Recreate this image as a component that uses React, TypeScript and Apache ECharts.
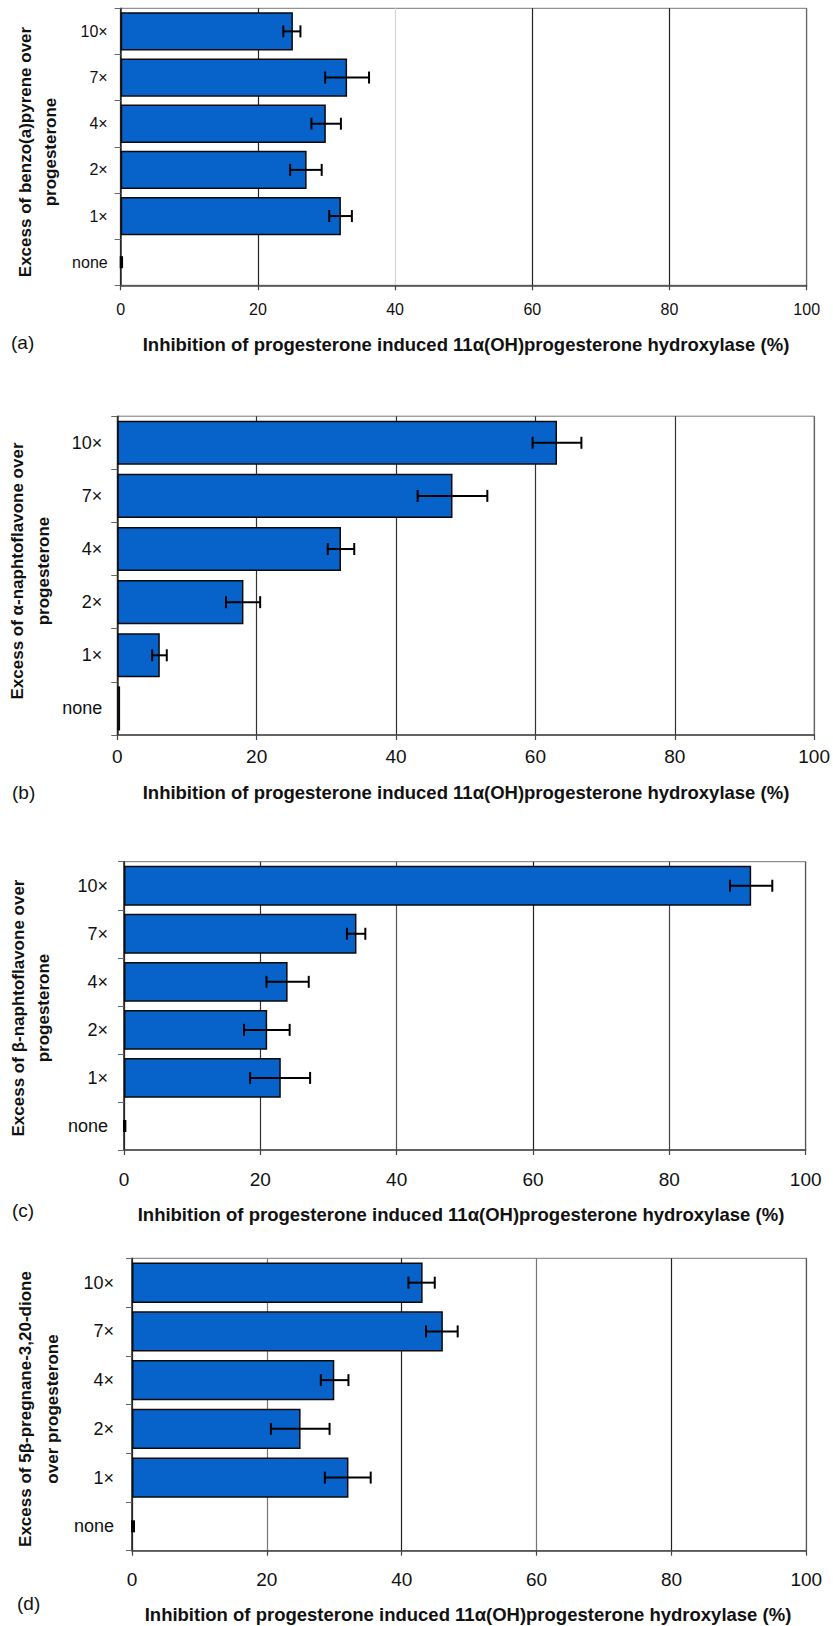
import React, { useEffect, useRef } from "react";
import * as echarts from "echarts";

const categories = ["none", "1×", "2×", "4×", "7×", "10×"];
const xTicks = [0, 20, 40, 60, 80, 100];

const aValues = [0, 32.1, 27.1, 29.9, 33.0, 25.1];
const aLow = [0, 30.4, 24.7, 27.8, 29.8, 23.7];
const aHigh = [0.2, 33.7, 29.3, 32.1, 36.2, 26.2];

const bValues = [0.4, 6.1, 18.1, 32.1, 48.1, 63.1];
const bLow = [null, 5.0, 15.6, 30.2, 43.1, 59.6];
const bHigh = [null, 7.1, 20.5, 34.0, 53.1, 66.6];

const cValues = [0, 23.0, 21.0, 24.0, 34.1, 92.0];
const cLow = [0, 18.5, 17.6, 20.9, 32.7, 88.9];
const cHigh = [0.2, 27.3, 24.3, 27.1, 35.4, 95.1];

const dValues = [0, 32.1, 25.0, 30.0, 46.1, 43.1];
const dLow = [0, 28.6, 20.6, 28.0, 43.6, 41.0];
const dHigh = [0.3, 35.4, 29.3, 32.1, 48.3, 44.9];

const panelLetters = ["(a)", "(b)", "(c)", "(d)"];
const yNames = [
  "Excess of benzo(a)pyrene over\nprogesterone",
  "Excess of α-naphtoflavone over\nprogesterone",
  "Excess of β-naphtoflavone over\nprogesterone",
  "Excess of 5β-pregnane-3,20-dione\nover progesterone",
];
const xName = "Inhibition of progesterone induced 11α(OH)progesterone hydroxylase (%)";

const FONT = "'Liberation Sans', Arial, Helvetica, sans-serif";

export default function App() {
  const ref = useRef<HTMLDivElement>(null);

  useEffect(() => {
    if (!ref.current) return;
    const chart = echarts.init(ref.current, null, { renderer: "svg" });

    const panels = [
      {
        values: aValues, low: aLow, high: aHigh,
        grid: { left: 120.7, top: 8.3, width: 686, height: 277 },
        yFont: 16, xFont: 16, yMargin: 13, xMargin: 16,
        split: ["#000", "#222", "#d6d6d6", "#222", "#222", "#666"],
        yName: { x: 37.5, y: 152, lh: 25 },
        title: { x: 466, y: 344 },
        letter: { x: 11, y: 342 },
      },
      {
        values: bValues, low: bLow, high: bHigh,
        grid: { left: 117.3, top: 416.2, width: 698, height: 318.8 },
        yFont: 18, xFont: 19, yMargin: 15, xMargin: 12,
        split: ["#000", "#333", "#333", "#333", "#333", "#666"],
        yName: { x: 30, y: 571, lh: 26 },
        title: { x: 466, y: 792 },
        letter: { x: 12, y: 792 },
      },
      {
        values: cValues, low: cLow, high: cHigh,
        grid: { left: 124, top: 861.7, width: 681.7, height: 288.3 },
        yFont: 18, xFont: 19, yMargin: 16, xMargin: 20,
        split: ["#000", "#333", "#555", "#222", "#444", "#555"],
        yName: { x: 30.5, y: 1008, lh: 25 },
        title: { x: 461, y: 1214 },
        letter: { x: 12, y: 1210 },
      },
      {
        values: dValues, low: dLow, high: dHigh,
        grid: { left: 132, top: 1258.3, width: 674.3, height: 292.4 },
        yFont: 18, xFont: 19, yMargin: 18, xMargin: 19,
        split: ["#000", "#777", "#222", "#777", "#222", "#555"],
        yName: { x: 38.5, y: 1409, lh: 27 },
        title: { x: 468, y: 1614 },
        letter: { x: 17, y: 1603 },
      },
    ];

    const grids: any[] = [];
    const xAxes: any[] = [];
    const yAxes: any[] = [];
    const series: any[] = [];
    const graphics: any[] = [];

    panels.forEach((p, i) => {
      grids.push({
        ...p.grid,
        show: true,
        borderColor: "#777",
        borderWidth: 1,
        containLabel: false,
      });
      xAxes.push({
        type: "value",
        gridIndex: i,
        min: xTicks[0],
        max: xTicks[xTicks.length - 1],
        interval: 20,
        axisLine: { show: true, lineStyle: { color: "#444", width: 1.5 } },
        axisTick: { show: true, length: 5, lineStyle: { color: "#444", width: 1.2 } },
        axisLabel: { fontFamily: FONT, fontSize: p.xFont, color: "#111", margin: p.xMargin },
        splitLine: { show: true, lineStyle: { color: p.split, width: 1.2 } },
      });
      yAxes.push({
        type: "category",
        gridIndex: i,
        data: categories,
        axisLine: { show: true, lineStyle: { color: "#333", width: 1.5 } },
        axisTick: { show: true, length: 6, lineStyle: { color: "#666", width: 1 } },
        axisLabel: { fontFamily: FONT, fontSize: p.yFont, color: "#111", margin: p.yMargin },
        splitLine: { show: false },
      });
      series.push({
        type: "bar",
        xAxisIndex: i,
        yAxisIndex: i,
        barCategoryGap: "17%",
        itemStyle: { color: "#0763C9", borderColor: "#0a0a0a", borderWidth: 1.5 },
        data: p.values.map((v) =>
          v === 0 ? { value: v, itemStyle: { borderWidth: 0 } } : { value: v }
        ),
        z: 2,
      });
      const errData: any[] = [];
      p.values.forEach((_, k) => {
        if (p.low[k] !== null && p.high[k] !== null) errData.push([k, p.low[k], p.high[k]]);
      });
      series.push({
        type: "custom",
        xAxisIndex: i,
        yAxisIndex: i,
        encode: { x: [1, 2], y: 0 },
        z: 5,
        data: errData,
        renderItem: (params: any, api: any) => {
          const idx = api.value(0);
          const lo = api.value(1);
          const hi = api.value(2);
          const p1 = api.coord([lo, idx]);
          const p2 = api.coord([hi, idx]);
          const h = 6;
          const st = { stroke: "#000", lineWidth: 2 };
          return {
            type: "group",
            children: [
              { type: "line", shape: { x1: p1[0], y1: p1[1], x2: p2[0], y2: p2[1] }, style: st },
              { type: "line", shape: { x1: p1[0], y1: p1[1] - h, x2: p1[0], y2: p1[1] + h }, style: st },
              { type: "line", shape: { x1: p2[0], y1: p2[1] - h, x2: p2[0], y2: p2[1] + h }, style: st },
            ],
          };
        },
      });
      graphics.push({
        type: "text",
        x: p.yName.x,
        y: p.yName.y,
        rotation: Math.PI / 2,
        style: {
          text: yNames[i],
          fontFamily: FONT,
          fontSize: 17,
          fontWeight: "bold",
          fill: "#111",
          textAlign: "center",
          textVerticalAlign: "middle",
          lineHeight: p.yName.lh,
        },
      });
      graphics.push({
        type: "text",
        x: p.title.x,
        y: p.title.y,
        style: {
          text: xName,
          fontFamily: FONT,
          fontSize: 18.5,
          fontWeight: "bold",
          fill: "#111",
          textAlign: "center",
          textVerticalAlign: "middle",
        },
      });
      graphics.push({
        type: "text",
        x: p.letter.x,
        y: p.letter.y,
        style: {
          text: panelLetters[i],
          fontFamily: FONT,
          fontSize: 19,
          fill: "#111",
          textAlign: "left",
          textVerticalAlign: "middle",
        },
      });
    });

    chart.setOption({
      animation: false,
      backgroundColor: "#fff",
      grid: grids,
      xAxis: xAxes,
      yAxis: yAxes,
      series,
      graphic: graphics,
    });

    return () => chart.dispose();
  }, []);

  return (
    <div
      ref={ref}
      style={{ position: "absolute", left: 0, top: 0, width: 833, height: 1626 }}
    />
  );
}
